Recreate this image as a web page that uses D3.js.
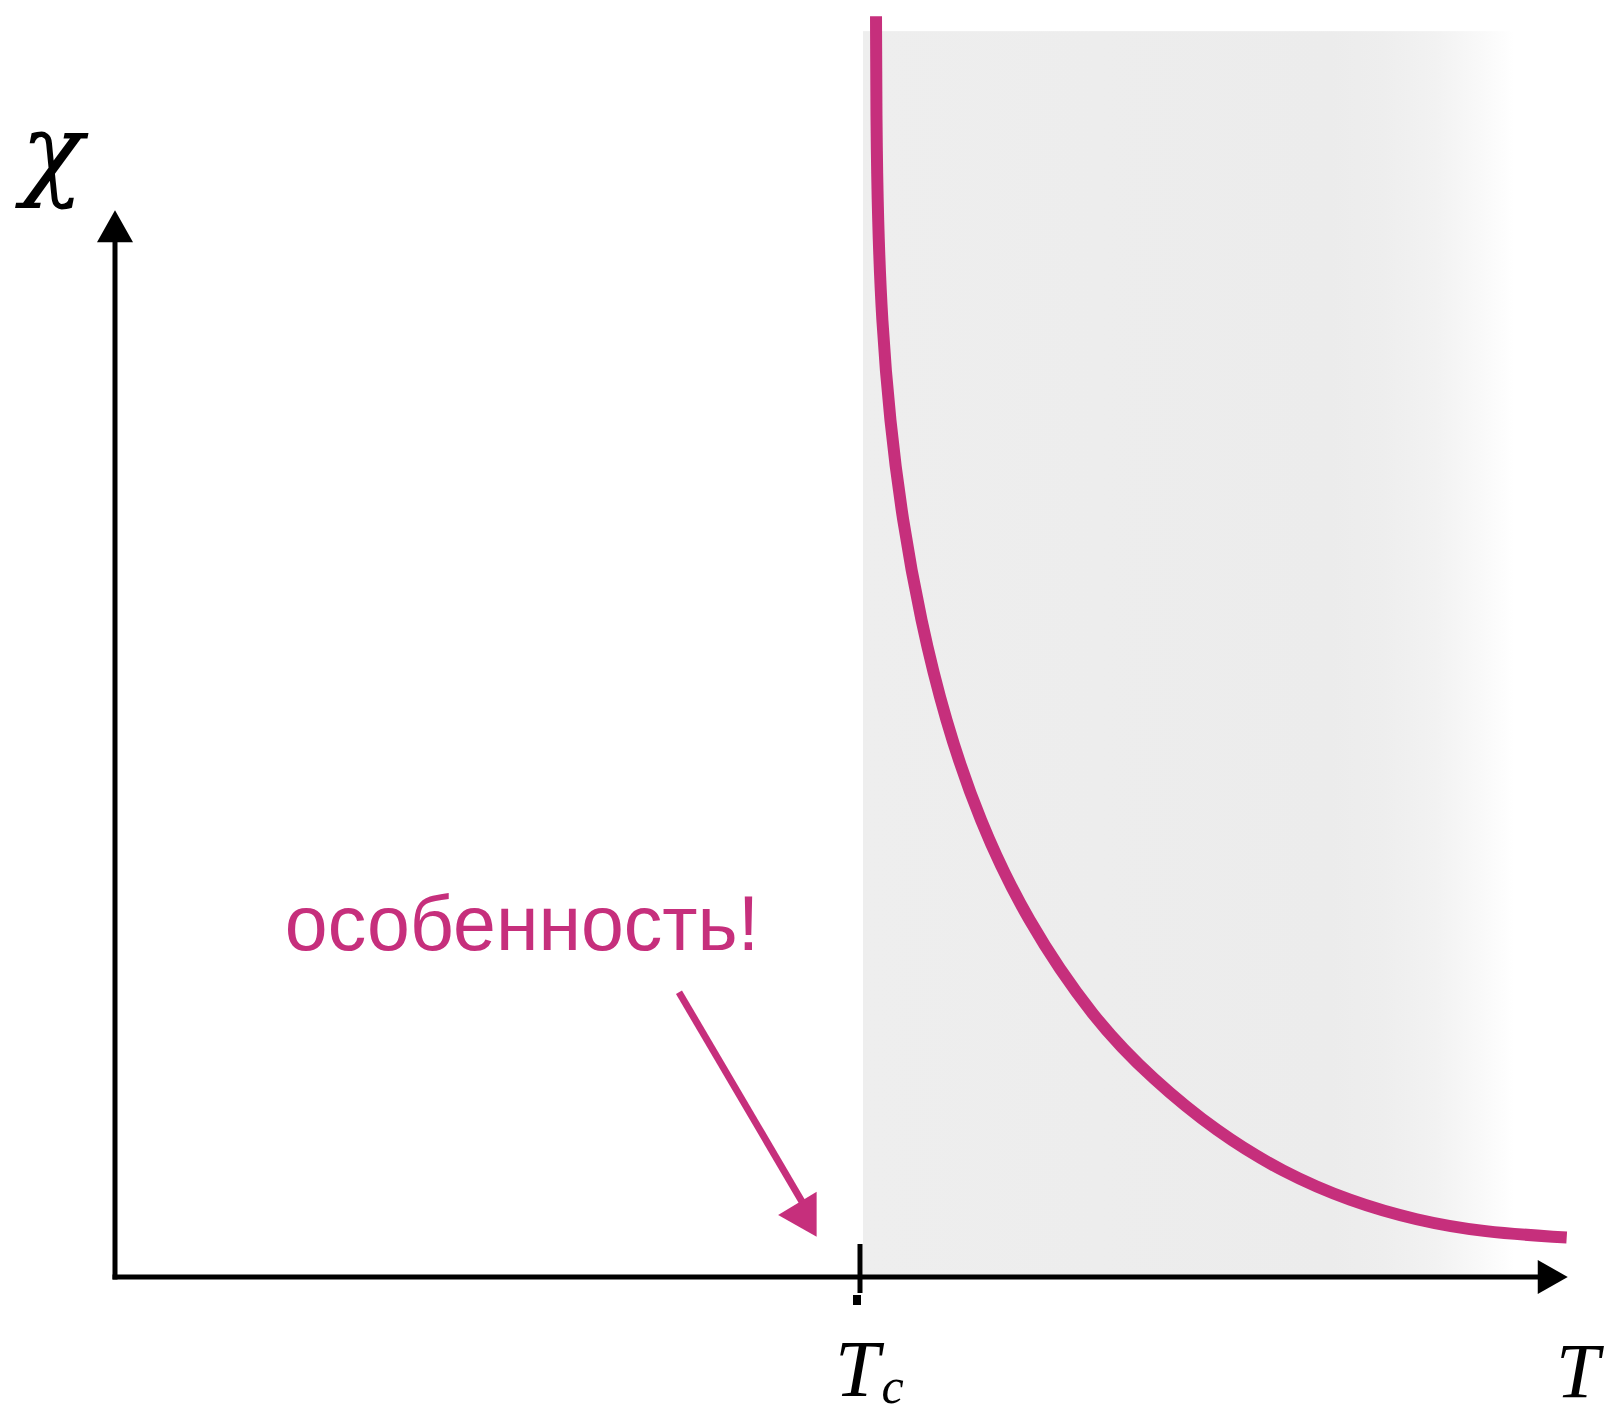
<!DOCTYPE html>
<html>
<head>
<meta charset="utf-8">
<script src="https://cdn.jsdelivr.net/npm/d3@7"></script>
<style>
  html, body { margin: 0; padding: 0; background: #ffffff; }
  svg { display: block; }
</style>
</head>
<body>
<svg id="chart" width="1613" height="1414"></svg>
<script>
// Susceptibility above the critical temperature (Tc = 1): temperature T and chi readings.
const curveT   = [1.0215, 1.0219, 1.0239, 1.0291, 1.0399, 1.0567, 1.0812, 1.1141, 1.1597, 1.2228, 1.3141, 1.3933, 1.4788, 1.5678, 1.6577, 1.7473, 1.8362, 1.9486];
const curveChi = [11.82, 10.85, 9.91, 8.97, 8.03, 7.10, 6.16, 5.22, 4.28, 3.35, 2.41, 1.85, 1.36, 0.98, 0.71, 0.53, 0.42, 0.37];

// Axis extents and the marked critical point
const tickValues = [1];
const tickLabels = ["T", "c"];           // main letter + subscript
const axisLabels = { x: "T", y: "χ" };
const annotationText = "особенность!";
const shadeRange = [1.004, 1.8775];      // shaded region along T
const shadeTop = 11.68;

const pink = "#c62f7c";
const svg = d3.select("#chart");

const x = d3.scaleLinear().domain([0, 2]).range([115, 1605]);
const y = d3.scaleLinear().domain([0, 12]).range([1277, -3]);

// Shaded region above Tc with a soft fade on its right side
const defs = svg.append("defs");
const grad = defs.append("linearGradient")
  .attr("id", "shade")
  .attr("gradientUnits", "userSpaceOnUse")
  .attr("x1", x(shadeRange[0])).attr("x2", x(shadeRange[1])).attr("y1", 0).attr("y2", 0);
[[0, "#eeeeee"], [0.72, "#ececec"], [0.8, "#eeeeee"], [0.88, "#f2f2f2"], [0.95, "#f9f9f9"], [1, "#ffffff"]]
  .forEach(([o, c]) => grad.append("stop").attr("offset", o).attr("stop-color", c));

svg.append("rect")
  .attr("x", x(shadeRange[0]))
  .attr("y", y(shadeTop))
  .attr("width", x(shadeRange[1]) - x(shadeRange[0]))
  .attr("height", y(0) - y(shadeTop))
  .attr("fill", "url(#shade)");

// Axes with arrowheads
const axisG = svg.append("g");
axisG.append("line")
  .attr("x1", x(0)).attr("y1", y(0) + 2.5)
  .attr("x2", x(0)).attr("y2", y(10) + 30)
  .attr("stroke", "#000").attr("stroke-width", 5);
axisG.append("path")
  .attr("d", `M${x(0)},${y(10)} L${x(0) - 18},${y(10) + 32} L${x(0) + 18},${y(10) + 32} Z`)
  .attr("fill", "#000");

axisG.append("line")
  .attr("x1", x(0) - 2.5).attr("y1", y(0))
  .attr("x2", x(1.95) - 28).attr("y2", y(0))
  .attr("stroke", "#000").attr("stroke-width", 5);
axisG.append("path")
  .attr("d", `M${x(1.95)},${y(0)} L${x(1.95) - 30},${y(0) - 17} L${x(1.95) - 30},${y(0) + 17} Z`)
  .attr("fill", "#000");

// Tick at the critical temperature
tickValues.forEach(v => {
  axisG.append("line")
    .attr("x1", x(v)).attr("x2", x(v))
    .attr("y1", y(0) - 33).attr("y2", y(0) + 16)
    .attr("stroke", "#000").attr("stroke-width", 5);
  axisG.append("rect")
    .attr("x", x(v) - 7).attr("y", y(0) + 18)
    .attr("width", 8).attr("height", 10)
    .attr("fill", "#000");
});

// Curve chi(T), smoothed through the readings
const pts = curveT.map((t, i) => [t, curveChi[i]]);
const line = d3.line()
  .x(d => x(d[0]))
  .y(d => y(d[1]))
  .curve(d3.curveBasis);

svg.append("path")
  .datum(pts)
  .attr("d", line)
  .attr("fill", "none")
  .attr("stroke", pink)
  .attr("stroke-width", 12);

// Axis labels
const serif = "'Liberation Serif', 'DejaVu Serif', serif";
svg.append("text")
  .attr("x", 21).attr("y", 187)
  .attr("font-family", "'DejaVu Serif', serif").attr("font-style", "italic")
  .attr("font-size", 103)
  .text(axisLabels.y);

svg.append("text")
  .attr("x", 1556).attr("y", 1397)
  .attr("font-family", serif).attr("font-style", "italic")
  .attr("font-size", 78)
  .text(axisLabels.x);

const tc = svg.append("text")
  .attr("x", x(tickValues[0]) - 25).attr("y", 1396)
  .attr("font-family", serif).attr("font-style", "italic")
  .attr("font-size", 80);
tc.append("tspan").text(tickLabels[0]);
tc.append("tspan").attr("font-size", 50).attr("dy", 7).attr("dx", 2).text(tickLabels[1]);

// Annotation pointing at the singularity
svg.append("text")
  .attr("x", x(0.228)).attr("y", y(3.07))
  .attr("font-family", "'Liberation Sans', Arial, sans-serif")
  .attr("font-size", 77)
  .attr("fill", pink)
  .text(annotationText);

const a0 = [x(0.757), y(2.67)];
const tip = [x(0.9418), y(0.378)];
svg.append("line")
  .attr("x1", a0[0]).attr("y1", a0[1])
  .attr("x2", tip[0] - 14).attr("y2", tip[1] - 34)
  .attr("stroke", pink).attr("stroke-width", 7);
svg.append("path")
  .attr("d", `M${tip[0]},${tip[1]} L${tip[0]},${tip[1] - 45} L${tip[0] - 38.5},${tip[1] - 21.7} Z`)
  .attr("fill", pink);
</script>
</body>
</html>
